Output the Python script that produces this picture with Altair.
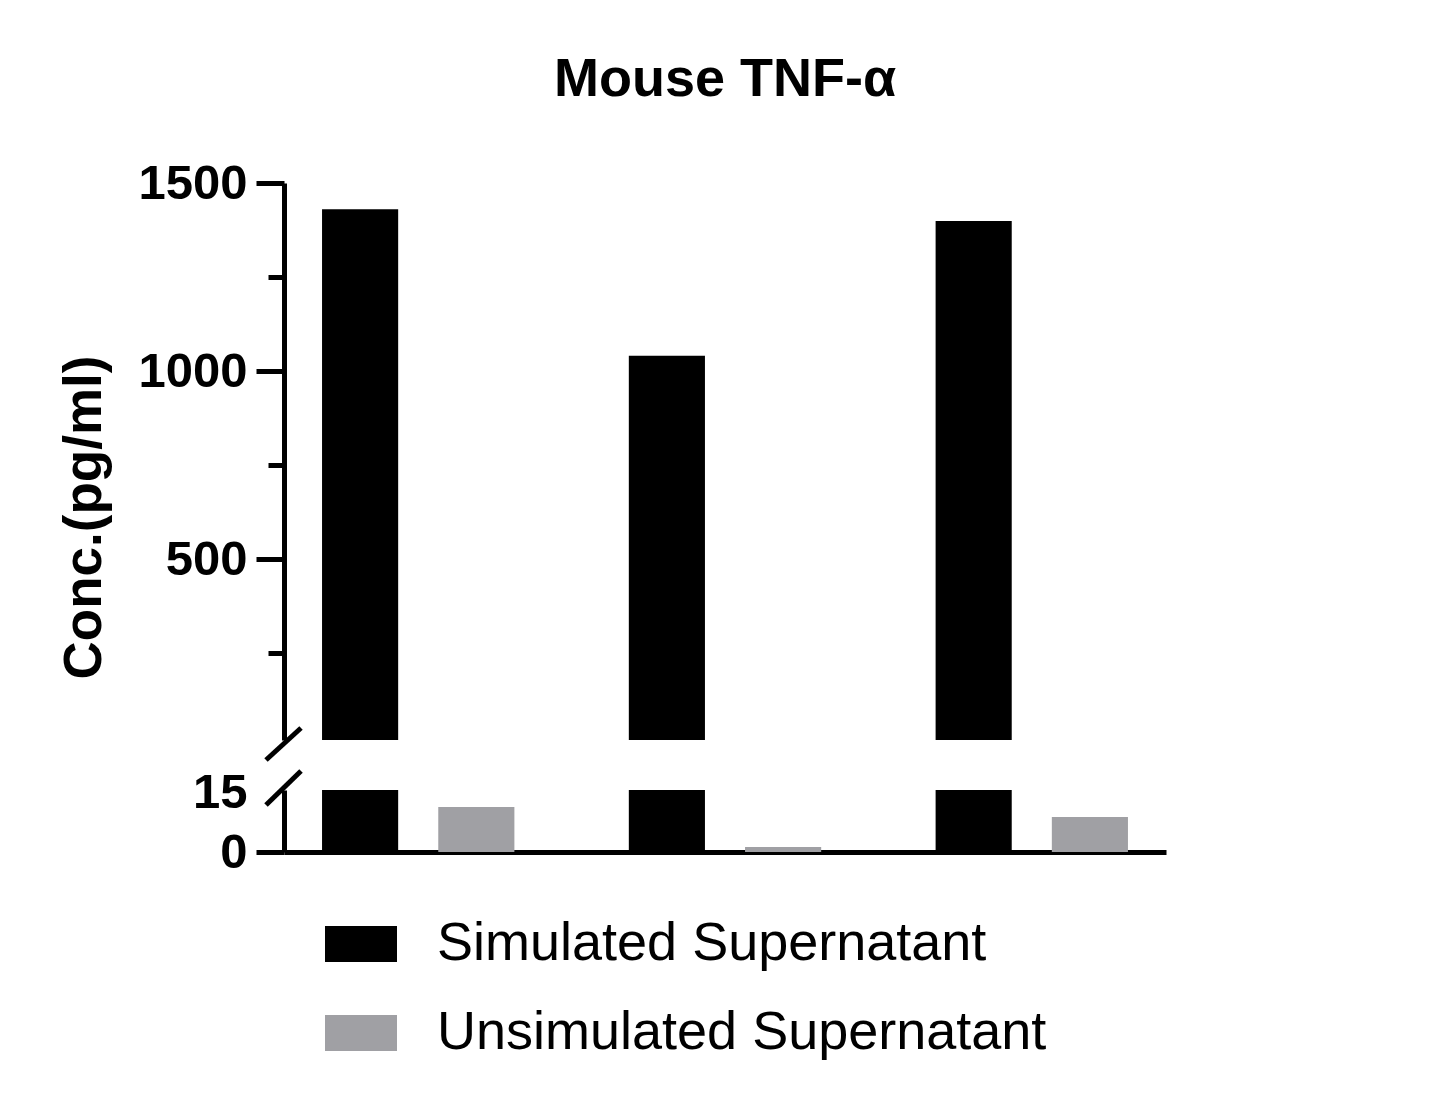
import altair as alt
import pandas as pd

# data
groups = ["A", "B", "C"]
series = ["Simulated Supernatant", "Unsimulated Supernatant"]
simulated = [1430, 1041, 1399]
unsimulated = [11.4, 1.3, 8.9]
colors = ["#000000", "#a0a0a4"]
upper_ticks = [250, 500, 750, 1000, 1250, 1500]
lower_ticks = [0, 15]

rows = []
for g, s, u in zip(groups, simulated, unsimulated):
    rows.append({"group": g, "series": series[0], "value": s})
    rows.append({"group": g, "series": series[1], "value": u})
df = pd.DataFrame(rows)

FONT = "Liberation Sans"
W = 882

x_scale = alt.Scale(paddingInner=0.373, paddingOuter=0.124)
xoff = alt.XOffset("series:N", sort=series,
                   scale=alt.Scale(paddingInner=0.345, paddingOuter=0))
color = alt.Color(
    "series:N", sort=series,
    scale=alt.Scale(domain=series, range=colors),
    legend=alt.Legend(
        title=None, orient="none", legendX=41, legendY=725,
        direction="vertical", padding=0,
        symbolType="M-1,-0.5H1V0.5H-1Z", symbolSize=5184,
        symbolStrokeWidth=0, symbolOpacity=1,
        labelFont=FONT, labelFontSize=54, labelColor="black",
        labelOffset=40, rowPadding=26, labelLimit=800,
    ),
)

axis_common = dict(
    domainColor="black", domainWidth=5, tickColor="black", tickWidth=5,
    labelFont=FONT, labelFontSize=49, labelFontWeight="bold",
    labelColor="black", labelPadding=9, grid=False,
)


def brk(y0, y1):
    return alt.Chart(alt.Data(values=[{}])).mark_rule(
        color="black", strokeWidth=5, strokeCap="butt"
    ).encode(x=alt.value(-18), x2=alt.value(17), y=alt.value(y0), y2=alt.value(y1))


upper_bars = alt.Chart(df).mark_bar(clip=True).encode(
    x=alt.X("group:N", sort=groups, scale=x_scale, axis=None),
    xOffset=xoff,
    y=alt.Y(
        "value:Q",
        scale=alt.Scale(domain=[20, 1500], nice=False, zero=False),
        axis=alt.Axis(
            values=upper_ticks,
            labelExpr="datum.value % 500 === 0 ? '' + datum.value : ''",
            tickSize={"condition": {"test": "datum.value % 500 === 0", "value": 28}, "value": 16},
            title="Conc.(pg/ml)", titleFont=FONT, titleFontSize=53,
            titleFontWeight="bold", titleColor="black",
            titleX=-184, titleY=334, titleAlign="center", titleBaseline="alphabetic",
            **axis_common,
        ),
    ),
    color=color,
)

upper = alt.layer(upper_bars, brk(577, 545)).properties(
    width=W, height=557,
    title=alt.TitleParams(
        "Mouse TNF-α", font=FONT, fontSize=54, fontWeight="bold", color="black",
        anchor="middle", frame="group", baseline="alphabetic", offset=9,
    ),
)

lower_bars = alt.Chart(df).mark_bar(clip=True).encode(
    x=alt.X(
        "group:N", sort=groups, scale=x_scale,
        axis=alt.Axis(labels=False, ticks=False, title=None,
                      domainColor="black", domainWidth=5),
    ),
    xOffset=xoff,
    y=alt.Y(
        "value:Q",
        scale=alt.Scale(domain=[0, 15.75], nice=False),
        axis=alt.Axis(
            values=lower_ticks, title=None, tickSize=28,
            labelExpr="'' + datum.value",
            tickOpacity={"condition": {"test": "datum.value === 0", "value": 1}, "value": 0},
            **axis_common,
        ),
    ),
    color=color,
)

lower = alt.layer(lower_bars, brk(15, -19)).properties(width=W, height=62)

chart = alt.vconcat(upper, lower, spacing=5).properties(
    padding={"left": 50, "top": 45, "right": 5, "bottom": 5},
    background="white",
).configure_view(stroke=None)

chart.save("out.html", embed_options={"renderer": "svg", "actions": False})
